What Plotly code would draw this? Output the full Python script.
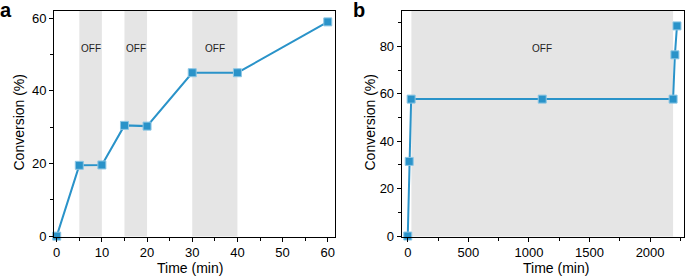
import plotly.graph_objects as go

# Panel a data
time_a = [0, 5, 10, 15, 20, 30, 40, 60]
conv_a = [0, 19.5, 19.6, 30.5, 30.3, 45.0, 45.0, 59.0]
off_a = [(5, 10), (15, 20), (30, 40)]

# Panel b data
time_b = [0, 12, 28, 1110, 2190, 2205, 2222]
conv_b = [0, 31.5, 57.8, 57.8, 57.8, 76.5, 88.7]
off_b = [(30, 2190)]

BLUE = "#2a93c9"
EDGE = "#8cc6e4"
SHADE = "#e5e5e5"
FONT = "Liberation Sans, Arial, Helvetica, sans-serif"
W, H = 685, 276

fig = go.Figure()
for xs, ys, xa, ya in [(time_a, conv_a, "x", "y"), (time_b, conv_b, "x2", "y2")]:
    fig.add_trace(go.Scatter(x=xs, y=ys, mode="lines+markers", xaxis=xa, yaxis=ya,
                             line=dict(color=BLUE, width=2),
                             marker=dict(symbol="square", size=8, color=BLUE, line=dict(color=EDGE, width=1)),
                             cliponaxis=False, showlegend=False))

shapes = []
annotations = []
for (x0, x1) in off_a:
    shapes.append(dict(type="rect", xref="x", yref="y domain", x0=x0, x1=x1, y0=0, y1=1,
                       fillcolor=SHADE, line=dict(width=0), layer="below"))
    annotations.append(dict(x=(x0 + x1) / 2, y=51.7, xref="x", yref="y", text="OFF", showarrow=False,
                            font=dict(size=10, color="#222222", family=FONT)))
for (x0, x1) in off_b:
    shapes.append(dict(type="rect", xref="x2", yref="y2 domain", x0=x0, x1=x1, y0=0, y1=1,
                       fillcolor=SHADE, line=dict(width=0), layer="below"))
    annotations.append(dict(x=1105, y=79, xref="x2", yref="y2", text="OFF", showarrow=False,
                            font=dict(size=10, color="#222222", family=FONT)))

# panel letters
annotations.append(dict(x=-0.003, y=1.01, xref="paper", yref="paper", xanchor="left", yanchor="top",
                        text="<b>a</b>", showarrow=False, font=dict(size=20, color="black", family=FONT)))
annotations.append(dict(x=0.513, y=1.01, xref="paper", yref="paper", xanchor="left", yanchor="top",
                        text="<b>b</b>", showarrow=False, font=dict(size=20, color="black", family=FONT)))
# axis titles
for xc in (190, 555.5):
    annotations.append(dict(x=xc / W, y=1 - 268 / H, xref="paper", yref="paper", xanchor="center",
                            yanchor="middle", text="Time (min)", showarrow=False,
                            font=dict(size=14, color="black", family=FONT)))
for xc in (19, 370):
    annotations.append(dict(x=xc / W, y=1 - 122.5 / H, xref="paper", yref="paper", xanchor="center",
                            yanchor="middle", text="Conversion (%)", textangle=-90, showarrow=False,
                            font=dict(size=14, color="black", family=FONT)))

axis_common = dict(showline=True, linecolor="black", linewidth=1, mirror=True, ticks="outside",
                   ticklen=4, tickwidth=1, tickcolor="black", showgrid=False, zeroline=False,
                   automargin=False, tickfont=dict(size=13, color="black", family=FONT))
ydom = [1 - 236.5 / H, 1 - 11 / H]

fig.update_layout(
    width=W, height=H, margin=dict(l=0, r=0, t=0, b=0, autoexpand=False),
    plot_bgcolor="white", paper_bgcolor="white",
    font=dict(family=FONT, color="black"),
    xaxis=dict(domain=[54 / W, 335 / W], range=[-0.6, 61.6], tickvals=[0, 10, 20, 30, 40, 50, 60],
               minor=dict(tickvals=[5, 15, 25, 35, 45, 55], ticklen=3, ticks="outside", tickcolor="black"),
               anchor="y", **axis_common),
    yaxis=dict(domain=ydom, range=[-0.1, 62], tickvals=[0, 20, 40, 60],
               minor=dict(tickvals=[10, 30, 50], ticklen=3, ticks="outside", tickcolor="black"),
               anchor="x", **axis_common),
    xaxis2=dict(domain=[401.7 / W, 684 / W], range=[-50, 2280], tickvals=[0, 500, 1000, 1500, 2000],
                minor=dict(tickvals=[250, 750, 1250, 1750, 2250], ticklen=3, ticks="outside", tickcolor="black"),
                anchor="y2", **axis_common),
    yaxis2=dict(domain=ydom, range=[-0.2, 95], tickvals=[0, 20, 40, 60, 80],
                minor=dict(tickvals=[10, 30, 50, 70, 90], ticklen=3, ticks="outside", tickcolor="black"),
                anchor="x2", **axis_common),
    shapes=shapes, annotations=annotations,
)

fig.write_html("out.html", config={"displayModeBar": False},
               post_script="document.body.style.margin='0';document.body.style.padding='0';")
